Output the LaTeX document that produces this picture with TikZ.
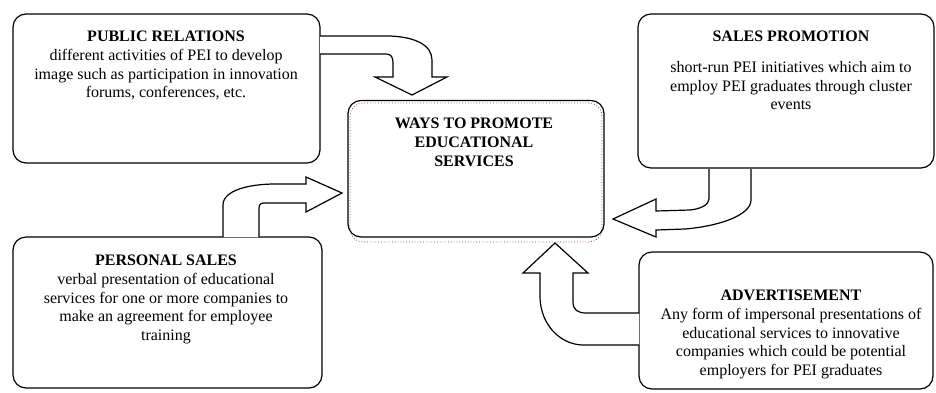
\documentclass[tikz,border=0pt]{standalone}
\usepackage{fontspec}
\setmainfont{Liberation Serif}
\definecolor{shadowred}{RGB}{150,60,50}
\begin{document}
\begin{tikzpicture}[x=1pt,y=-1pt,
  box/.style={draw=black, line width=1.2pt, rounded corners=13pt, inner sep=0pt},
  txt/.style={anchor=north, inner sep=0pt, align=center, font=\fontsize{16}{18.7}\selectfont},
  blockarrow/.style={draw=black, fill=white, line width=1.2pt, line join=miter}]
\useasboundingbox (0,0) rectangle (936,392);
% boxes
\node[box, minimum width=307pt, minimum height=149pt] (pr) at (166.5,88.5) {};
\node[draw=shadowred, dotted, line width=0.8pt, rounded corners=13pt, inner sep=0pt,
  minimum width=252pt, minimum height=139pt] (waysshadow) at (476,172.5) {};
\node[box, minimum width=256pt, minimum height=136.5pt] (ways) at (476,168.75) {};
\node[box, minimum width=296pt, minimum height=154pt] (sp) at (786,91) {};
\node[box, minimum width=309pt, minimum height=151pt] (ps) at (167.5,312.5) {};
\node[box, minimum width=294pt, minimum height=137pt] (adv) at (786,320.5) {};
% texts
\node[txt] (prtext) at (166,31) {\textbf{PUBLIC RELATIONS}\\different activities of PEI to develop\\image such as participation in innovation\\forums, conferences, etc.};
\node[txt] (waystext) at (474,118) {\textbf{WAYS TO PROMOTE}\\\textbf{EDUCATIONAL}\\\textbf{SERVICES}};
\node[txt] (sptitle) at (791,31) {\textbf{SALES PROMOTION}};
\node[txt] (sptext) at (791,61) {short-run PEI initiatives which aim to\\employ PEI graduates through cluster\\events};
\node[txt] (pstext) at (166,255) {\textbf{PERSONAL SALES}\\verbal presentation of educational\\services for one or more companies to\\make an agreement for employee\\training};
\node[txt] (advtext) at (791,290) {\textbf{ADVERTISEMENT}\\Any form of impersonal presentations of\\educational services to innovative\\companies which could be potential\\employers for PEI graduates};
% block arrows
% public relations -> ways
\draw[blockarrow] (320,36) -- (390,36) .. controls (415,37) and (432,45) .. (432,60)
  -- (432,77) -- (447,77) -- (412,95) -- (375,77) -- (393,77) -- (393,63)
  .. controls (393,57) and (391,54) .. (386,54) -- (320,54);
% personal sales -> ways
\draw[blockarrow] (223,237) -- (223,205) .. controls (223,190) and (250,184) .. (275,184)
  -- (306,184) -- (306,177) -- (342,193) -- (306,212) -- (306,203) -- (264,203)
  .. controls (260,203) and (259,205) .. (259,209) -- (259,237);
% sales promotion -> ways
\draw[blockarrow] (709,169) -- (709,199) .. controls (709,205) and (700,209) .. (690,210)
  -- (656,211) -- (656,199) -- (613,219) -- (656,237) -- (656,230) -- (685,229)
  .. controls (720,226) and (751,215) .. (751,200) -- (751,169);
% advertisement -> ways
\draw[blockarrow] (639,313) -- (586,313) .. controls (578,313) and (573,310) .. (573,302)
  -- (573,273) -- (588,273) -- (555,243) -- (523,273) -- (540,273) -- (540,298)
  .. controls (541,325) and (560,344) .. (582,345) -- (639,345);
\end{tikzpicture}
\end{document}
